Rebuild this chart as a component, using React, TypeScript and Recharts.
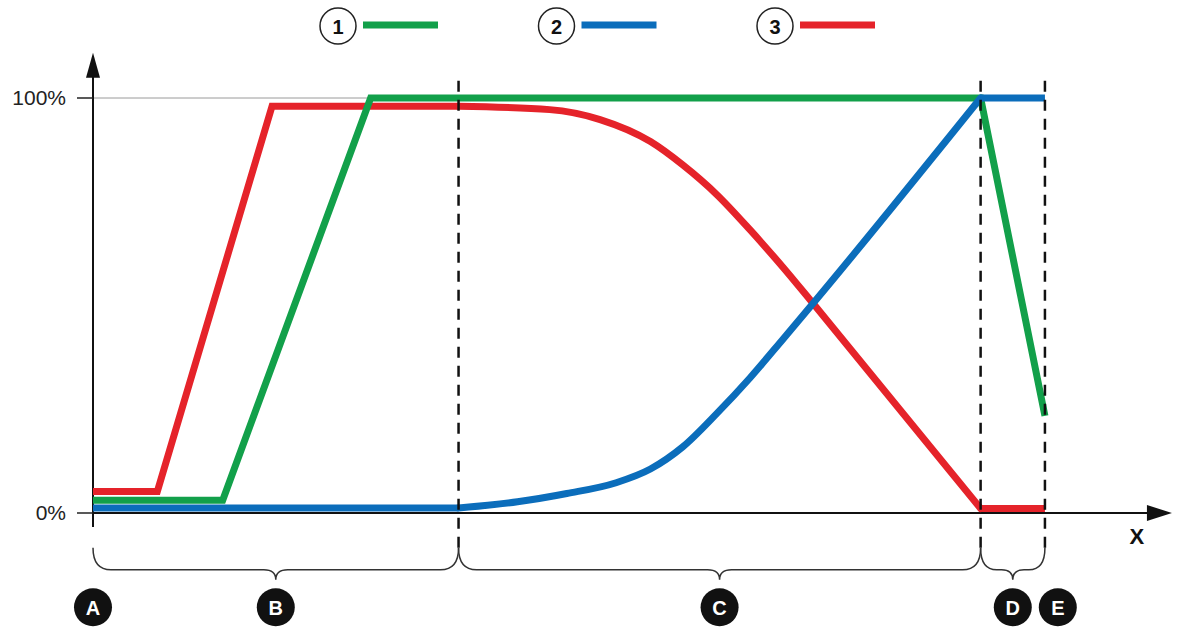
import { LineChart, Line, XAxis, YAxis, ReferenceLine, ReferenceDot, Legend } from 'recharts';

const FONT = '"Liberation Sans", Arial, Helvetica, sans-serif';

// series values (x in arbitrary units 0..100, y in %)
const greenLine = [
  { x: 0, y: 3.1 },
  { x: 12.1, y: 3.1 },
  { x: 25.9, y: 100 },
  { x: 82.8, y: 100 },
  { x: 88.8, y: 23.4 },
];

const blueLine = [
  { x: 0, y: 1.2 },
  { x: 34.1, y: 1.2 },
  { x: 39.6, y: 2.7 },
  { x: 44.2, y: 4.7 },
  { x: 48.8, y: 7.3 },
  { x: 52.0, y: 10.6 },
  { x: 55.0, y: 15.9 },
  { x: 58.2, y: 24.0 },
  { x: 61.3, y: 32.6 },
  { x: 64.4, y: 42.0 },
  { x: 67.2, y: 50.6 },
  { x: 82.8, y: 100 },
  { x: 88.8, y: 100 },
];

const redLine = [
  { x: 0, y: 5.2 },
  { x: 6.0, y: 5.2 },
  { x: 16.7, y: 98 },
  { x: 34.1, y: 98 },
  { x: 42.6, y: 97.2 },
  { x: 47.3, y: 94.8 },
  { x: 52.0, y: 89.5 },
  { x: 55.0, y: 83.9 },
  { x: 58.2, y: 76.7 },
  { x: 61.3, y: 68.2 },
  { x: 64.4, y: 59.1 },
  { x: 67.2, y: 50.4 },
  { x: 82.8, y: 1.1 },
  { x: 88.8, y: 1.1 },
];

// phase C is where blue and red follow smooth curves
const curveFrom = 34.1;
const curveTo = 82.8;

const legendKeys = ['1', '2', '3'];
const yTicks = [0, 100];
const phaseBounds = [34.1, 82.8, 88.8];
const braceSpans = [
  [0, 34.1],
  [34.1, 82.8],
  [82.8, 88.8],
];
const zoneLabels = [
  { x: 0, label: 'A' },
  { x: 17.05, label: 'B' },
  { x: 58.45, label: 'C' },
  { x: 85.8, label: 'D' },
  { x: 90.0, label: 'E' },
];

const GREEN = '#12a04a';
const BLUE = '#0b6dbb';
const RED = '#e5232a';

const head = (pts: { x: number; y: number }[]) => pts.filter((p) => p.x <= curveFrom);
const mid = (pts: { x: number; y: number }[]) => pts.filter((p) => p.x >= curveFrom && p.x <= curveTo);
const tail = (pts: { x: number; y: number }[]) => pts.filter((p) => p.x >= curveTo);

const renderLegend = (props: any) => {
  const items = legendKeys
    .map((k) => (props.payload ?? []).find((p: any) => String(p.value) === k))
    .filter(Boolean);
  return (
    <svg width={1177} height={52} style={{ display: 'block' }}>
      {items.map((it: any, i: number) => {
        const cx = 338 + i * 218.5;
        return (
          <g key={it.value}>
            <circle cx={cx} cy={26} r={18} fill="#fff" stroke="#222" strokeWidth={1.5} />
            <text
              x={cx}
              y={27}
              textAnchor="middle"
              dominantBaseline="central"
              fontFamily={FONT}
              fontSize={20}
              fontWeight="bold"
              fill="#111"
            >
              {it.value}
            </text>
            <line x1={cx + 25} x2={cx + 100} y1={25} y2={25} stroke={it.color} strokeWidth={7} />
          </g>
        );
      })}
    </svg>
  );
};

const YArrow = (props: any) => {
  const { x1, y1, y2 } = props;
  const top = Math.min(y1, y2);
  const bottom = Math.max(y1, y2);
  return (
    <g>
      <line x1={x1} x2={x1} y1={bottom} y2={top + 20} stroke="#111" strokeWidth={2} />
      <polygon points={`${x1 - 7},${top + 25} ${x1 + 7},${top + 25} ${x1},${top}`} fill="#111" />
    </g>
  );
};

const XArrow = (props: any) => {
  const { x1, x2, y1 } = props;
  return (
    <g>
      <line x1={x1} x2={x2 - 20} y1={y1} y2={y1} stroke="#111" strokeWidth={2} />
      <polygon points={`${x2 - 25},${y1 - 8} ${x2 - 25},${y1 + 8} ${x2},${y1}`} fill="#111" />
      <text
        x={x2 - 35}
        y={y1 + 23}
        textAnchor="middle"
        dominantBaseline="central"
        fontFamily={FONT}
        fontSize={22}
        fontWeight="bold"
        fill="#111"
      >
        X
      </text>
    </g>
  );
};

const Brace = (props: any) => {
  const { x1, x2, y1 } = props;
  const left = Math.min(x1, x2);
  const right = Math.max(x1, x2);
  const m = (left + right) / 2;
  const h = 22;
  const r = Math.min(18, (right - left) / 4);
  const t = Math.min(12, r * 0.7);
  const d =
    `M${left},${y1} Q${left},${y1 + h} ${left + r},${y1 + h} ` +
    `L${m - t},${y1 + h} Q${m},${y1 + h} ${m},${y1 + h + 10} ` +
    `Q${m},${y1 + h} ${m + t},${y1 + h} L${right - r},${y1 + h} ` +
    `Q${right},${y1 + h} ${right},${y1}`;
  return <path d={d} fill="none" stroke="#333" strokeWidth={1.5} />;
};

const ZoneDot = (label: string) => (props: any) => {
  const { cx, cy } = props;
  return (
    <g>
      <circle cx={cx} cy={cy} r={19} fill="#111" />
      <text
        x={cx}
        y={cy + 1}
        textAnchor="middle"
        dominantBaseline="central"
        fontFamily={FONT}
        fontSize={20}
        fontWeight="bold"
        fill="#fff"
      >
        {label}
      </text>
    </g>
  );
};

const lineProps = {
  dataKey: 'y',
  strokeWidth: 7,
  dot: false,
  activeDot: false,
  isAnimationActive: false,
} as const;

export default function App() {
  return (
    <div style={{ position: 'absolute', left: 0, top: 0, background: '#fff' }}>
      <LineChart
        width={1177}
        height={629}
        margin={{ top: 98, right: 12, bottom: 116, left: 33 }}
        style={{ fontFamily: FONT }}
      >
        <XAxis type="number" dataKey="x" domain={[0, 100]} hide allowDataOverflow />
        <YAxis
          type="number"
          domain={[0, 100]}
          ticks={yTicks}
          tickFormatter={(v: number) => `${v}%`}
          axisLine={false}
          tickLine={{ stroke: '#222', strokeWidth: 1.5 }}
          tickSize={16}
          tickMargin={11}
          width={60}
          tick={{ fontSize: 21, fill: '#222', fontFamily: FONT }}
        />
        <Legend
          verticalAlign="middle"
          align="center"
          layout="horizontal"
          wrapperStyle={{ top: 0, left: 0, width: 1177 }}
          content={renderLegend}
        />

        <ReferenceLine
          segment={[{ x: 0, y: 100 }, { x: 88.8, y: 100 }]}
          stroke="#9a9a9a"
          strokeWidth={1}
          ifOverflow="visible"
        />
        <ReferenceLine
          segment={[{ x: 0, y: -3.4 }, { x: 0, y: 110.9 }]}
          ifOverflow="visible"
          shape={YArrow}
        />
        <ReferenceLine
          segment={[{ x: 0, y: 0 }, { x: 100.65, y: 0 }]}
          ifOverflow="visible"
          shape={XArrow}
        />

        {/* 3: red */}
        <Line {...lineProps} data={head(redLine)} name="3" type="linear" stroke={RED} />
        <Line {...lineProps} data={mid(redLine)} name="3b" type="monotone" stroke={RED} strokeLinecap="round" legendType="none" />
        <Line {...lineProps} data={tail(redLine)} name="3c" type="linear" stroke={RED} legendType="none" />
        {/* 1: green */}
        <Line {...lineProps} data={greenLine} name="1" type="linear" stroke={GREEN} />
        {/* 2: blue */}
        <Line {...lineProps} data={head(blueLine)} name="2" type="linear" stroke={BLUE} />
        <Line {...lineProps} data={mid(blueLine)} name="2b" type="monotone" stroke={BLUE} strokeLinecap="round" legendType="none" />
        <Line {...lineProps} data={tail(blueLine)} name="2c" type="linear" stroke={BLUE} legendType="none" />

        {phaseBounds.map((b) => (
          <ReferenceLine
            key={`dash-${b}`}
            segment={[{ x: b, y: -8.4 }, { x: b, y: 104.9 }]}
            stroke="#111"
            strokeWidth={2.5}
            strokeDasharray="11 8"
            ifOverflow="visible"
          />
        ))}
        {braceSpans.map(([a, b]) => (
          <ReferenceLine
            key={`brace-${a}`}
            segment={[{ x: a, y: -8.4 }, { x: b, y: -8.4 }]}
            ifOverflow="visible"
            shape={Brace}
          />
        ))}
        {zoneLabels.map((z) => (
          <ReferenceDot
            key={z.label}
            x={z.x}
            y={-22.7}
            r={19}
            ifOverflow="visible"
            shape={ZoneDot(z.label)}
          />
        ))}
      </LineChart>
    </div>
  );
}
